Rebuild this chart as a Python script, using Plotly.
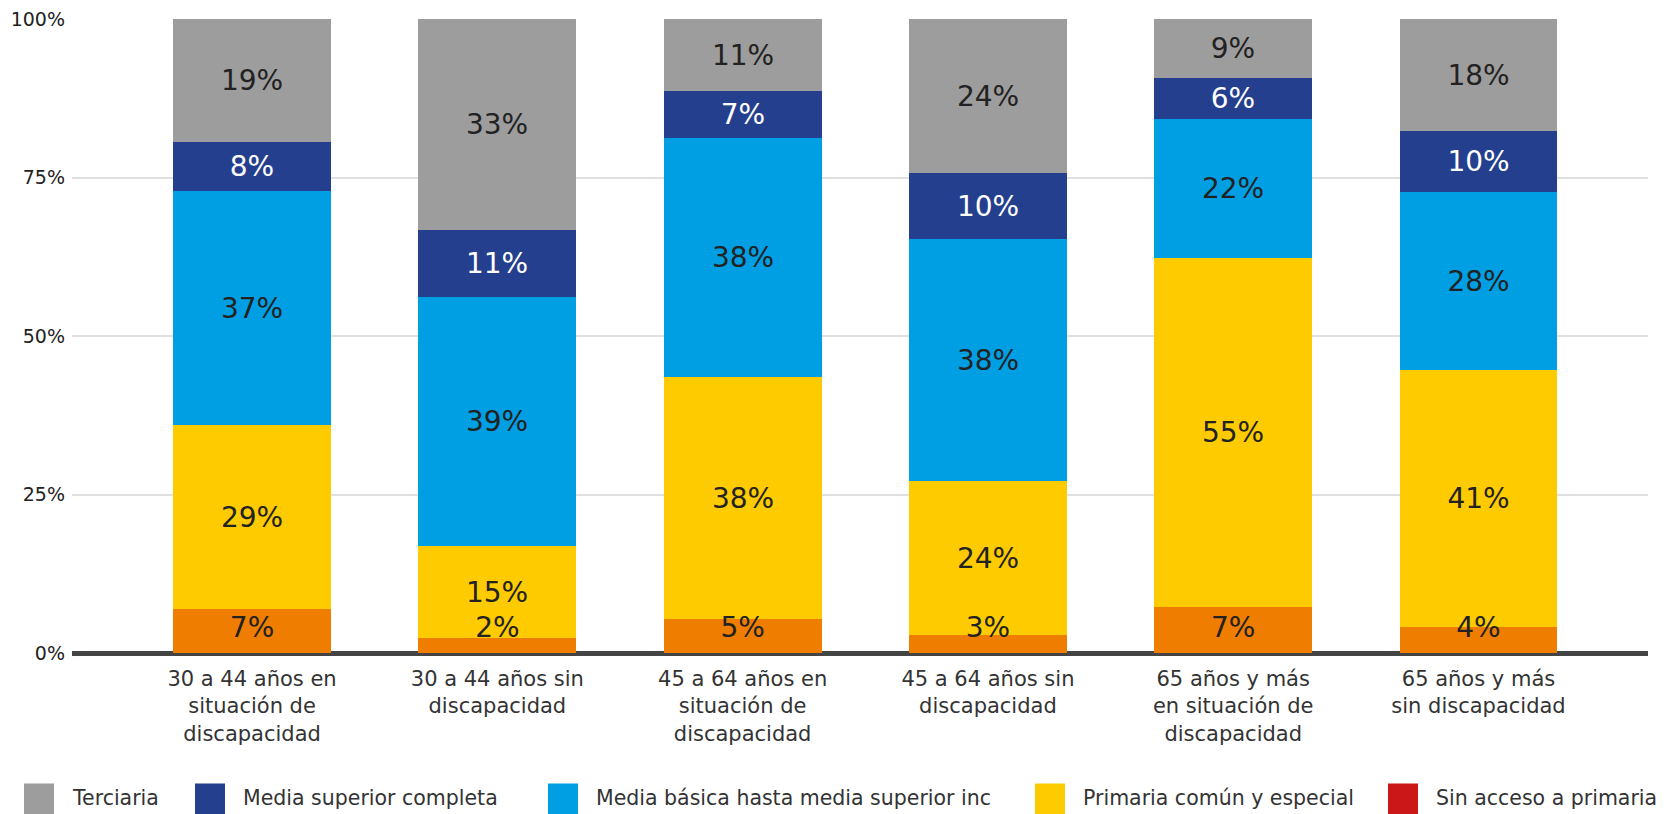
#!/usr/bin/env python3
"""
Nivel educativo por tramo de edad y situación de discapacidad - barras apiladas 100%
"""
import plotly.graph_objects as go

# categories (x axis)
categories = [
    "30 a 44 años en<br>situación de<br>discapacidad",
    "30 a 44 años sin<br>discapacidad",
    "45 a 64 años en<br>situación de<br>discapacidad",
    "45 a 64 años sin<br>discapacidad",
    "65 años y más<br>en situación de<br>discapacidad",
    "65 años y más<br>sin discapacidad",
]

# series values (%), bottom to top
sin_acceso = [0, 0, 0, 0, 0, 0]
primaria_incompleta = [6.9, 2.3, 5.4, 2.8, 7.3, 4.1]
primaria = [29.1, 14.6, 38.1, 24.3, 55.0, 40.6]
media_basica = [36.9, 39.3, 37.8, 38.2, 22.0, 28.1]
media_completa = [7.7, 10.5, 7.4, 10.4, 6.4, 9.6]
terciaria = [19.4, 33.3, 11.3, 24.3, 9.3, 17.6]

y_ticks = [0, 25, 50, 75, 100]
y_tick_labels = ["0%", "25%", "50%", "75%", "100%"]

label_font = dict(family="DejaVu Sans", size=28)
text_font = dict(family="DejaVu Sans", size=21, color="#333333")
legend_font = dict(family="DejaVu Sans", size=20.5, color="#333333")

series = [
    ("Sin acceso a primaria", sin_acceso, "#cc1719", None),
    ("Primaria incompleta", primaria_incompleta, "#ef7d00", None),
    ("Primaria común y especial", primaria, "#fecb00", "#222222"),
    ("Media básica hasta media superior inc", media_basica, "#009fe3", "#222222"),
    ("Media superior completa", media_completa, "#243f8d", "#ffffff"),
    ("Terciaria", terciaria, "#9d9d9d", "#222222"),
]

fig = go.Figure()
for name, vals, color, txtcolor in series:
    fig.add_trace(go.Bar(
        x=categories,
        y=vals,
        name=name,
        marker=dict(color=color, line=dict(width=0)),
        width=0.644,
        texttemplate="%{y:.0f}%" if txtcolor else None,
        textposition="inside" if txtcolor else "none",
        insidetextanchor="middle",
        constraintext="none",
        textangle=0,
        textfont=dict(label_font, color=txtcolor or "#222222"),
        hovertemplate=f"{name}<br>%{{x}}: %{{y:.1f}}%<extra></extra>",
        showlegend=False,
        cliponaxis=False,
    ))

# labels of the thin bottom segment sit a little above the baseline
fig.add_trace(go.Scatter(
    x=categories,
    y=[max(v / 2, 3.6) for v in primaria_incompleta],
    mode="text",
    text=[f"{v:.0f}%" for v in primaria_incompleta],
    textposition="middle center",
    textfont=dict(label_font, color="#222222"),
    hoverinfo="skip",
    showlegend=False,
    cliponaxis=False,
))

# the page body adds an 8px offset, so the figure is drawn 8px smaller
# and the pixel positions below are page positions minus that offset
OFF = 8
W, H = 1666 - OFF, 814 - OFF
L, R, T = 72 - OFF, 18, 19 - OFF
B = H - (653.5 - OFF)
pw, ph = W - L - R, H - T - B


def px_x(px):
    return (px - OFF - L) / pw


def px_y(py):
    return (H - B - (py - OFF)) / ph


legend_items = [
    ("Terciaria", "#9d9d9d", 24),
    ("Media superior completa", "#243f8d", 195),
    ("Media básica hasta media superior inc", "#009fe3", 548),
    ("Primaria común y especial", "#fecb00", 1035),
    ("Sin acceso a primaria", "#cc1719", 1388),
]
shapes = []
annotations = []
for label, color, sx in legend_items:
    shapes.append(dict(
        type="rect", xref="paper", yref="paper",
        x0=px_x(sx), x1=px_x(sx + 30), y0=px_y(820), y1=px_y(784),
        fillcolor=color, line=dict(width=0),
    ))
    annotations.append(dict(
        text=label, xref="paper", yref="paper",
        x=px_x(sx + 46), y=px_y(799), xanchor="left", yanchor="middle",
        showarrow=False, font=legend_font,
    ))

fig.update_layout(
    barmode="stack",
    width=W,
    height=H,
    margin=dict(l=L, r=R, t=T, b=B, autoexpand=False),
    plot_bgcolor="white",
    paper_bgcolor="white",
    showlegend=False,
    shapes=shapes,
    annotations=annotations,
    bargap=0,
)
fig.update_xaxes(
    range=[-0.734, 5.691],
    showgrid=False,
    showline=False,
    ticks="",
    automargin=False,
    ticklabelstandoff=11,
    tickfont=text_font,
)
fig.update_yaxes(
    range=[0, 100.05],
    tickmode="array",
    tickvals=y_ticks,
    ticktext=y_tick_labels,
    automargin=False,
    ticklabeloverflow="allow",
    ticklabelstandoff=6,
    showgrid=True,
    gridcolor="#e0e0e0",
    gridwidth=2,
    zeroline=True,
    zerolinecolor="#444444",
    zerolinewidth=5,
    tickfont=dict(family="DejaVu Sans", size=19, color="#222222"),
)

fig.write_html("out.html")
print("Saved: out.html")
